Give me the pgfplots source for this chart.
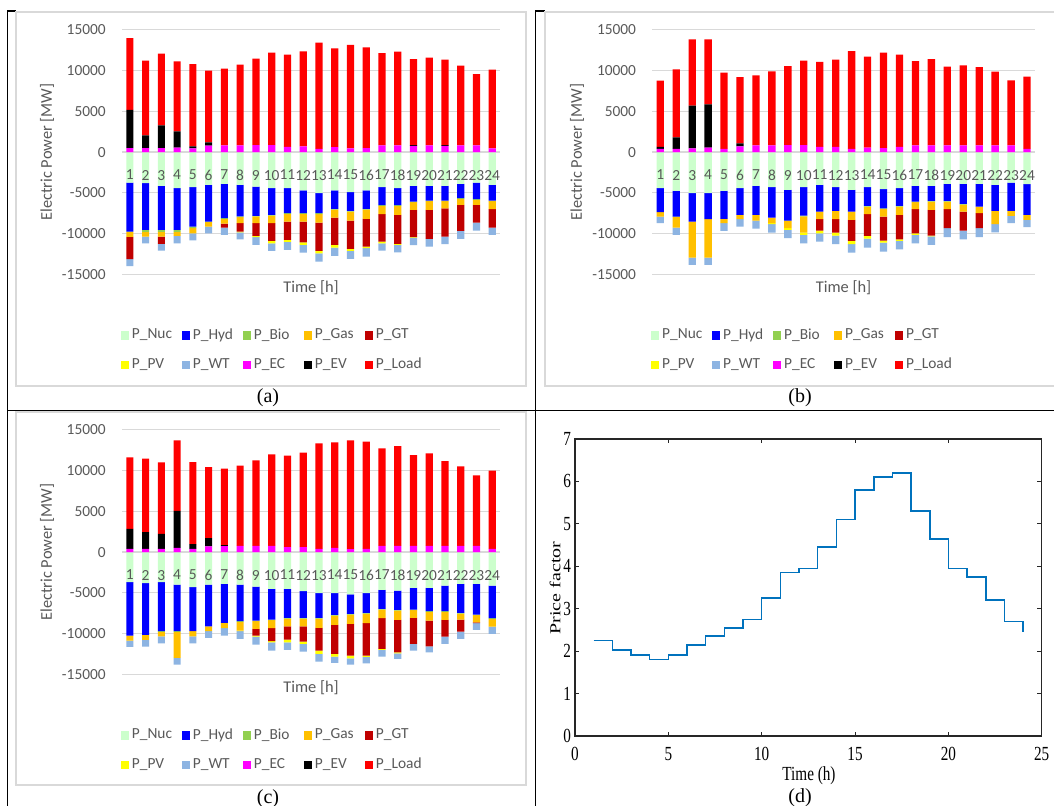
\documentclass[border=0pt]{standalone}
\usepackage{fontspec}
\setmainfont{Carlito}
\newfontfamily\timesf{Liberation Serif}
\usepackage{pgfplots}
\usepackage{pgfplotstable}
\pgfplotsset{compat=1.18}

\definecolor{cNuc}{HTML}{CCFFCC}
\definecolor{cHyd}{HTML}{0000FF}
\definecolor{cBio}{HTML}{92D050}
\definecolor{cGas}{HTML}{FFC000}
\definecolor{cGT}{HTML}{C00000}
\definecolor{cPV}{HTML}{FFFF00}
\definecolor{cWT}{HTML}{8DB4E2}
\definecolor{cEC}{HTML}{FF00FF}
\definecolor{cEV}{HTML}{000000}
\definecolor{cLoad}{HTML}{FF0000}
\definecolor{txt}{HTML}{595959}
\definecolor{grd}{HTML}{D9D9D9}
\definecolor{mblue}{HTML}{0072BD}

\newcommand\lbl[1]{\makebox[21pt][l]{#1}}
\newcommand\tickfont{\fontsize{7.7}{9}\selectfont}
\newcommand\titfont{\fontsize{8.2}{10}\selectfont}

% h: hour; generation (negative) and consumption (positive) in MW
\pgfplotstableread{
h Nuc Hyd Bio Gas GT PV WT EC EV Load
1 -3730 -6020 -50 -600 -2740 0 -870 500 4700 8800
2 -3810 -5740 -250 -570 0 0 -820 500 1550 9180
3 -4140 -5410 -250 -570 -900 0 -820 500 2780 8810
4 -4430 -5120 -250 -490 0 0 -900 570 1970 8610
5 -4300 -4840 -200 -620 0 0 -860 450 250 10120
6 -4020 -4500 -80 -540 0 0 -820 800 390 8810
7 -3890 -4220 -90 -570 -490 0 -900 820 0 9430
8 -4020 -3880 -80 -750 -1020 -90 -860 820 0 9920
9 -4220 -3610 -70 -830 -1560 -160 -940 860 0 10620
10 -4430 -3280 -80 -940 -2170 -290 -940 860 0 11350
11 -4430 -3070 -80 -940 -2260 -240 -980 660 0 11310
12 -4710 -2790 -80 -940 -2550 -320 -950 700 0 11680
13 -5040 -2460 -100 -1050 -3480 -290 -1020 410 0 13030
14 -4710 -2260 -80 -980 -3360 -330 -1030 610 0 12140
15 -4920 -2290 -90 -1100 -3490 -240 -980 450 0 12710
16 -4710 -2260 -80 -1150 -3400 -200 -1030 500 0 12370
17 -4300 -2220 -80 -1020 -3360 -210 -900 820 0 11350
18 -4430 -2090 -80 -1110 -3560 -120 -910 820 0 11520
19 -4140 -1930 -80 -940 -3360 -50 -930 780 80 10570
20 -4140 -1800 -80 -1070 -3570 0 -940 820 0 10780
21 -4140 -1800 -80 -870 -3480 0 -940 780 80 10490
22 -3890 -1770 -80 -740 -3190 0 -990 820 0 9790
23 -3730 -2050 -80 -620 -2170 0 -980 820 0 8770
24 -4020 -1920 -80 -990 -2250 0 -900 450 0 9670
}\tabA

\pgfplotstableread{
h Nuc Hyd Bio Gas GT PV WT EC EV Load
1 -4430 -2950 0 -530 0 0 -820 410 250 8110
2 -4750 -3160 -50 -1300 0 0 -900 410 1390 8360
3 -5040 -3480 0 -4430 0 0 -900 450 5250 8150
4 -5040 -3200 0 -4710 0 0 -900 570 5290 7990
5 -4750 -3450 0 -530 0 0 -940 410 0 9340
6 -4430 -3280 0 -530 0 0 -900 700 370 8150
7 -4140 -3570 0 -690 0 0 -990 820 0 8610
8 -4300 -3730 0 -700 0 -120 -1030 820 0 9100
9 -4630 -3770 -50 -890 0 -210 -1020 860 0 9710
10 -4300 -3490 -110 -1980 0 -280 -1030 860 0 10370
11 -4020 -3280 0 -940 -1390 -330 -1020 660 0 10410
12 -4300 -2910 0 -1030 -1640 -370 -1060 660 0 10690
13 -4630 -2670 0 -1020 -2580 -410 -1030 410 0 12010
14 -4300 -2300 -80 -940 -2670 -320 -1110 570 0 11150
15 -4550 -2340 -80 -940 -2950 -250 -1100 500 0 11710
16 -4430 -2170 -80 -1030 -2990 -200 -1030 660 0 11310
17 -4140 -1930 -80 -860 -2950 -200 -1030 820 0 10370
18 -4140 -1840 -90 -1020 -3160 -80 -1060 820 0 10610
19 -3890 -2090 -90 -940 -2330 0 -1110 820 0 9670
20 -3890 -2460 -80 -870 -2330 0 -1070 820 0 9840
21 -3890 -2790 0 -820 -1840 0 -1110 820 0 9630
22 -4020 -3190 0 -1640 0 0 -990 820 0 9060
23 -3730 -3480 0 -620 0 0 -900 820 0 7990
24 -3930 -3780 0 -610 0 0 -900 410 0 8850
}\tabB

\pgfplotstableread{
h Nuc Hyd Bio Gas GT PV WT EC EV Load
1 -3690 -6560 0 -610 0 0 -780 410 2460 8770
2 -3810 -6350 0 -620 0 0 -820 410 2050 9020
3 -3690 -6020 -90 -530 0 0 -860 410 1840 8770
4 -3980 -5730 -90 -3190 0 0 -820 530 4550 8650
5 -4300 -5410 0 -620 0 0 -860 410 570 10090
6 -3980 -5120 0 -610 0 0 -820 700 1020 8730
7 -3890 -4800 0 -650 0 0 -910 750 110 9390
8 -3980 -4500 -80 -1070 0 -80 -950 780 0 9830
9 -4220 -4180 -80 -950 -820 -120 -980 780 0 10490
10 -4510 -3770 -80 -980 -1600 -130 -1020 780 0 11220
11 -4510 -3560 -80 -950 -1640 -330 -940 610 0 11230
12 -4800 -3270 -80 -950 -1880 -290 -940 610 0 11600
13 -5040 -3030 -80 -1150 -2790 -410 -940 410 0 12950
14 -5040 -2670 -80 -1140 -3570 -330 -780 530 0 12950
15 -5200 -2380 -80 -1150 -3890 -330 -780 370 0 13360
16 -5040 -2420 -80 -1190 -3970 -170 -780 410 0 13160
17 -4630 -2340 -80 -1060 -3780 -120 -820 780 0 11970
18 -4710 -2380 -80 -1150 -3980 -120 -690 780 0 12250
19 -4390 -2660 -80 -940 -3200 0 -820 780 0 11150
20 -4390 -2860 -80 -1070 -3160 0 -740 780 0 11350
21 -4100 -3150 -80 -990 -2050 0 -900 780 0 10410
22 -3890 -3570 -80 -740 -1470 0 -910 780 0 9750
23 -3890 -3770 -80 -870 -120 0 -820 780 0 8650
24 -4100 -4010 -90 -940 0 0 -900 410 0 9590
}\tabC

\pgfplotsset{
  sq/.style={legend image code/.code={\fill[##1] (0pt,-2.1pt) rectangle (4.2pt,2.1pt);}},
  excelbase/.style={
    scale only axis, anchor=south west, height=122.15pt,
    xmin=0.5, xmax=24.5, ymin=-15000, ymax=15000,
    ybar stacked, bar width=0.46,
  },
  negaxis/.style={excelbase,
    axis line style={draw=none}, major tick length=0pt,
    xtick=\empty, ytick={-15000,-10000,...,15000}, ytick pos=left,
    ymajorgrids, grid style={grd, line width=0.5pt},
    scaled y ticks=false,
    yticklabel style={font=\tickfont, text=txt, xshift=-4.6pt},
    /pgf/number format/assume math mode=true,
    /pgf/number format/1000 sep={},
  },
  posaxis/.style={excelbase,
    axis x line*=middle, axis y line=none,
    x axis line style={grd, line width=0.9pt},
    major tick length=0pt, xtick={1,...,24}, ytick=\empty,
    xticklabel style={font=\tickfont, text=txt, yshift=-5.4pt},
    /pgf/number format/assume math mode=true,
    legend columns=5, legend cell align=left,
    legend style={at={(-0.005,-0.2165)}, anchor=north west, draw=none, fill=none,
      inner sep=0pt, font=\tickfont, text=txt, row sep=7pt,
      nodes={inner sep=0.5pt},
      /tikz/every odd column/.style={column sep=1pt},
      /tikz/every even column/.style={column sep=3.3pt}},
    legend entries={\lbl{P\_Nuc},\lbl{P\_Hyd},\lbl{P\_Bio},\lbl{P\_Gas},\lbl{P\_GT},
      \lbl{P\_PV},\lbl{P\_WT},\lbl{P\_EC},\lbl{P\_EV},\lbl{P\_Load}},
  },
}

\newcommand\panel[4]{%
  \begin{axis}[negaxis, at={(#2,#3)}, width=#4]
    \addplot[fill=cNuc, draw=none] table[x=h,y=Nuc]{#1};
    \addplot[fill=cHyd, draw=none] table[x=h,y=Hyd]{#1};
    \addplot[fill=cBio, draw=none] table[x=h,y=Bio]{#1};
    \addplot[fill=cGas, draw=none] table[x=h,y=Gas]{#1};
    \addplot[fill=cGT, draw=none] table[x=h,y=GT]{#1};
    \addplot[fill=cPV, draw=none] table[x=h,y=PV]{#1};
    \addplot[fill=cWT, draw=none] table[x=h,y=WT]{#1};
  \end{axis}
  \begin{axis}[posaxis, at={(#2,#3)}, width=#4]
    \addlegendimage{sq, fill=cNuc, draw=none}
    \addlegendimage{sq, fill=cHyd, draw=none}
    \addlegendimage{sq, fill=cBio, draw=none}
    \addlegendimage{sq, fill=cGas, draw=none}
    \addlegendimage{sq, fill=cGT, draw=none}
    \addlegendimage{sq, fill=cPV, draw=none}
    \addlegendimage{sq, fill=cWT, draw=none}
    \addplot[sq, fill=cEC, draw=none] table[x=h,y=EC]{#1};
    \addplot[sq, fill=cEV, draw=none] table[x=h,y=EV]{#1};
    \addplot[sq, fill=cLoad, draw=none] table[x=h,y=Load]{#1};
  \end{axis}}

\begin{document}
\begin{tikzpicture}[x=0.5pt, y=-0.5pt]
  \useasboundingbox (0,0) rectangle (1054,806);
  \clip (0,0) rectangle (1054,806);
  \fill[white] (0,0) rectangle (1054,806);
  % table frame
  \draw[black, line width=0.55pt] (7.3,11) -- (7.3,806);
  \draw[black, line width=0.55pt] (535.4,11) -- (535.4,806);
  \draw[black, line width=0.55pt] (7,410.7) -- (1054,410.7);
  \draw[black, line width=0.55pt] (7,11) -- (16,11);
  \draw[black, line width=0.55pt] (535,11) -- (545,11);
  % chart areas
  \draw[grd, fill=white, line width=0.6pt] (16,12) rectangle (526,386);
  \draw[grd, fill=white, line width=0.6pt] (545,12) rectangle (1070,386);
  \draw[grd, fill=white, line width=0.6pt] (16,412) rectangle (526,785);

  \panel{\tabA}{61pt}{-137.15pt}{189pt}
  \panel{\tabB}{326.15pt}{-137.15pt}{191.35pt}
  \panel{\tabC}{61pt}{-337.15pt}{189pt}

  % Excel axis titles
  \node[rotate=90, text=txt, font=\titfont] at (47,152) {Electric Power [MW]};
  \node[rotate=90, text=txt, font=\titfont] at (577,152) {Electric Power [MW]};
  \node[rotate=90, text=txt, font=\titfont] at (47,552) {Electric Power [MW]};
  \node[text=txt, font=\titfont] at (311,288) {Time [h]};
  \node[text=txt, font=\titfont] at (843.5,288) {Time [h]};
  \node[text=txt, font=\titfont] at (311,688) {Time [h]};

  % captions
  \node[font=\timesf\fontsize{10}{12}\selectfont] at (268,398) {(a)};
  \node[font=\timesf\fontsize{10}{12}\selectfont] at (800,398) {(b)};
  \node[font=\timesf\fontsize{10}{12}\selectfont] at (268,799) {(c)};
  \node[font=\timesf\fontsize{10}{12}\selectfont] at (800,798) {(d)};

  % panel (d)
  \begin{axis}[at={(287.5pt,-368pt)}, anchor=south west, scale only axis,
    width=233.35pt, height=148.5pt,
    xmin=0, xmax=25, ymin=0, ymax=7,
    xtick={0,5,...,25}, ytick={0,1,...,7},
    tick align=inside, major tick length=2.2pt,
    axis line style={draw=black!85, line width=0.6pt},
    tick style={black!85, line width=0.5pt},
    tick label style={font=\timesf\fontsize{10}{12}\selectfont, xscale=0.76},
    xticklabel style={yshift=-2pt}, yticklabel style={xshift=0.85pt},
    /pgf/number format/assume math mode=true]
    \addplot[const plot, color=mblue, line width=0.8pt] coordinates {
      (1,2.25) (2,2.03) (3,1.91) (4,1.8) (5,1.91) (6,2.15) (7,2.35) (8,2.55)
      (9,2.75) (10,3.25) (11,3.85) (12,3.95) (13,4.45) (14,5.1) (15,5.8)
      (16,6.1) (17,6.2) (18,5.3) (19,4.65) (20,3.95) (21,3.75) (22,3.2)
      (23,2.7) (24,2.45)};
  \end{axis}
  \node[font=\timesf\fontsize{10}{12}\selectfont, xscale=0.76] at (809,776) {Time (h)};
  \node[font=\timesf\fontsize{10}{12}\selectfont, xscale=0.76, rotate=90] at (555,588) {Price factor};
\end{tikzpicture}
\end{document}
